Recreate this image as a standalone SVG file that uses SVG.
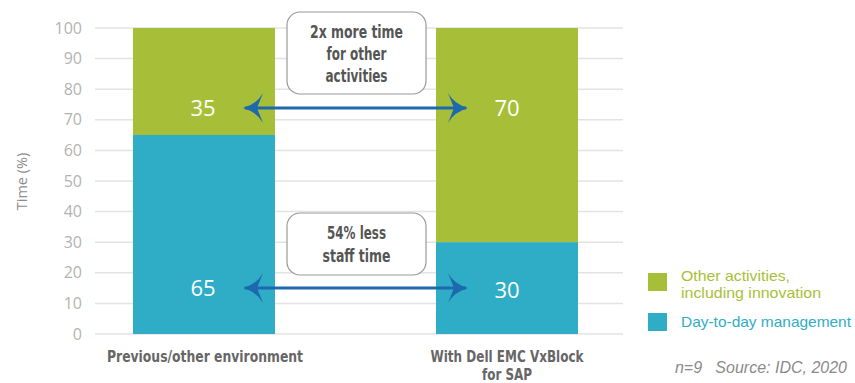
<svg xmlns="http://www.w3.org/2000/svg" width="855" height="383" viewBox="0 0 855 383">
<style>
.grid{stroke:#e3e3e3;stroke-width:1.5}
.tick{font-family:"Open Sans","Liberation Sans",sans-serif;font-size:16px;fill:#b3b3b3;text-anchor:end}
.val{font-family:"Open Sans","Liberation Sans",sans-serif;font-size:22px;fill:#ffffff;text-anchor:middle}
.green{fill:#a7bf38}
.blue{fill:#2fadc6}
.callout{fill:#ffffff;stroke:#9a9a9a;stroke-width:1.2}
.ctext{font-family:"Liberation Sans Narrow","DejaVu Sans Condensed","Liberation Sans",sans-serif;font-weight:bold;font-size:17px;fill:#555555;text-anchor:middle}
.xlab{font-family:"Liberation Sans Narrow","DejaVu Sans Condensed","Liberation Sans",sans-serif;font-weight:bold;font-size:16px;fill:#666666;text-anchor:middle}
.leg{font-family:"Liberation Sans",sans-serif;font-size:14.5px}
.arrow{stroke:#1e69ad;stroke-width:3;fill:none}
.head{fill:#1e69ad}
</style>
<defs>
<marker id="ah" viewBox="0 0 20 30" refX="18" refY="15" markerWidth="20" markerHeight="30" markerUnits="userSpaceOnUse" orient="auto-start-reverse">
<path class="head" d="M0,0 Q6,11 20,15 Q6,19 0,30 L6,15 Z"/>
</marker>
</defs>
<g id="axis">
<line class="grid" x1="95" y1="28" x2="623" y2="28"/>
<line class="grid" x1="95" y1="58.6" x2="623" y2="58.6"/>
<line class="grid" x1="95" y1="89.2" x2="623" y2="89.2"/>
<line class="grid" x1="95" y1="119.8" x2="623" y2="119.8"/>
<line class="grid" x1="95" y1="150.4" x2="623" y2="150.4"/>
<line class="grid" x1="95" y1="181" x2="623" y2="181"/>
<line class="grid" x1="95" y1="211.6" x2="623" y2="211.6"/>
<line class="grid" x1="95" y1="242.2" x2="623" y2="242.2"/>
<line class="grid" x1="95" y1="272.8" x2="623" y2="272.8"/>
<line class="grid" x1="95" y1="303.4" x2="623" y2="303.4"/>
<line class="grid" x1="95" y1="334" x2="623" y2="334"/>
<text class="tick" x="82" y="33.6">100</text>
<text class="tick" x="82" y="64.2">90</text>
<text class="tick" x="82" y="94.8">80</text>
<text class="tick" x="82" y="125.4">70</text>
<text class="tick" x="82" y="156">60</text>
<text class="tick" x="82" y="186.6">50</text>
<text class="tick" x="82" y="217.2">40</text>
<text class="tick" x="82" y="247.8">30</text>
<text class="tick" x="82" y="278.4">20</text>
<text class="tick" x="82" y="309">10</text>
<text class="tick" x="82" y="339.6">0</text>
<text transform="translate(27,181.5) rotate(-90)" font-family="Open Sans, Liberation Sans, sans-serif" font-size="14.5" fill="#8c8c8c" text-anchor="middle">Time (%)</text>
</g>
<g id="bar-previous">
<rect class="green" x="133" y="28" width="142" height="107"/>
<rect class="blue" x="133" y="135" width="142" height="199"/>
<text class="val" x="203" y="115.5">35</text>
<text class="val" x="203" y="296">65</text>
<text class="xlab" x="205" y="362" textLength="196" lengthAdjust="spacingAndGlyphs">Previous/other environment</text>
</g>
<g id="bar-vxblock">
<rect class="green" x="436" y="28" width="142" height="214.2"/>
<rect class="blue" x="436" y="242.2" width="142" height="91.8"/>
<text class="val" x="507" y="116">70</text>
<text class="val" x="507" y="298">30</text>
<text class="xlab" x="507" y="362" textLength="153" lengthAdjust="spacingAndGlyphs">With Dell EMC VxBlock</text>
<text class="xlab" x="507" y="380" textLength="50" lengthAdjust="spacingAndGlyphs">for SAP</text>
</g>
<g id="connectors">
<line class="arrow" x1="245" y1="108" x2="466" y2="108" marker-start="url(#ah)" marker-end="url(#ah)"/>
<line class="arrow" x1="245" y1="288" x2="466" y2="288" marker-start="url(#ah)" marker-end="url(#ah)"/>
</g>
<g id="callout-more-time">
<rect class="callout" x="287" y="12" width="139" height="82" rx="13" ry="13"/>
<text class="ctext" x="356.5" y="38" textLength="93" lengthAdjust="spacingAndGlyphs">2x more time</text>
<text class="ctext" x="356.5" y="60" textLength="60" lengthAdjust="spacingAndGlyphs">for other</text>
<text class="ctext" x="356.5" y="82" textLength="62" lengthAdjust="spacingAndGlyphs">activities</text>
</g>
<g id="callout-less-staff">
<rect class="callout" x="287" y="213" width="139" height="62" rx="13" ry="13"/>
<text class="ctext" x="356.5" y="239" textLength="59" lengthAdjust="spacingAndGlyphs">54% less</text>
<text class="ctext" x="356.5" y="262" textLength="68" lengthAdjust="spacingAndGlyphs">staff time</text>
</g>
<g id="legend">
<rect class="green" x="648" y="273" width="19" height="18"/>
<text class="leg" x="681" y="280.5" fill="#a7bf38" textLength="109" lengthAdjust="spacingAndGlyphs">Other activities,</text>
<text class="leg" x="681" y="298" fill="#a7bf38" textLength="140" lengthAdjust="spacingAndGlyphs">including innovation</text>
<rect class="blue" x="648" y="313" width="19" height="18"/>
<text class="leg" x="681" y="327" fill="#2fadc6" textLength="170" lengthAdjust="spacingAndGlyphs">Day-to-day management</text>
</g>
<g id="source">
<text x="847" y="373" font-family="Liberation Sans, Arial, sans-serif" font-style="italic" font-size="16" fill="#8a8a8a" text-anchor="end" xml:space="preserve">n=9   Source: IDC, 2020</text>
</g>
</svg>
